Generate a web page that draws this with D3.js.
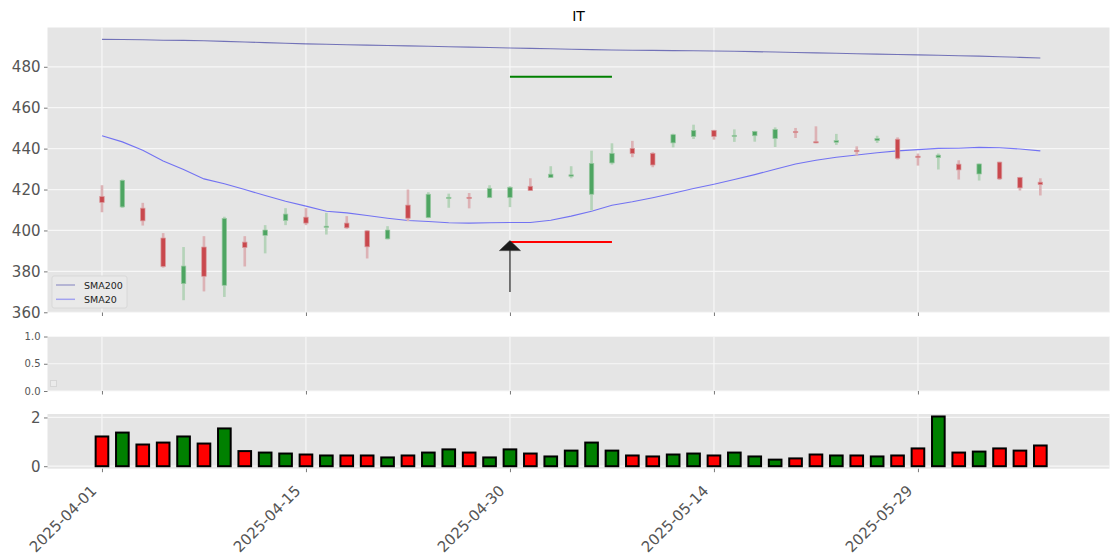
<!DOCTYPE html>
<html><head><meta charset="utf-8">
<script src="https://cdn.jsdelivr.net/npm/d3@7"></script>
<style>
body{margin:0;background:#fff;}
text{font-family:"DejaVu Sans",sans-serif;}
</style>
</head><body>
<svg id="c" width="1120" height="560"></svg>
<script>
const dates = ["2025-04-01","2025-04-02","2025-04-03","2025-04-04","2025-04-07","2025-04-08","2025-04-09","2025-04-10","2025-04-11","2025-04-14",
"2025-04-15","2025-04-16","2025-04-17","2025-04-21","2025-04-22","2025-04-23","2025-04-24","2025-04-25","2025-04-28","2025-04-29",
"2025-04-30","2025-05-01","2025-05-02","2025-05-05","2025-05-06","2025-05-07","2025-05-08","2025-05-09","2025-05-12","2025-05-13",
"2025-05-14","2025-05-15","2025-05-16","2025-05-19","2025-05-20","2025-05-21","2025-05-22","2025-05-23","2025-05-27","2025-05-28",
"2025-05-29","2025-05-30","2025-06-02","2025-06-03","2025-06-04","2025-06-05","2025-06-06"];
const open  = [416.6,411.5,410.9,396.3,374.0,391.9,373.2,394.3,397.6,404.9,406.5,401.5,403.6,399.8,395.9,412.4,406.3,415.6,416.2,416.1,
416.1,421.6,425.9,426.5,417.7,433.0,440.1,437.7,442.8,445.9,448.9,445.9,446.3,444.9,448.4,443.4,443.1,439.2,443.9,444.6,
436.3,435.6,432.4,427.6,433.4,425.9,423.6];
const high  = [422.1,424.9,413.5,398.7,391.9,397.2,406.7,397.2,402.6,410.9,410.9,408.6,407.0,400.0,402.1,420.0,418.7,418.0,418.3,422.1,
421.6,425.5,431.4,431.4,439.0,442.6,443.8,438.2,447.3,451.7,449.2,449.4,448.7,450.4,450.1,450.9,447.2,441.1,446.3,445.5,
437.6,437.6,434.3,432.7,433.6,426.2,425.5];
const low   = [408.9,411.0,402.4,381.8,365.9,370.2,367.5,382.4,388.8,402.6,402.6,398.0,400.8,386.3,395.6,404.5,406.0,411.1,410.8,415.8,
411.4,419.3,425.7,425.5,409.8,432.2,435.8,430.9,440.6,444.7,444.4,443.3,443.4,440.8,445.2,442.6,441.8,436.6,442.8,434.7,
431.7,429.8,424.9,424.4,424.7,419.5,417.1];
const close = [413.7,424.5,404.7,382.4,382.6,377.6,405.9,391.7,400.2,408.0,403.6,402.1,401.3,392.0,400.2,406.0,417.7,416.2,415.6,420.6,
421.1,419.5,427.5,427.2,432.8,437.7,437.6,432.0,446.8,448.9,445.9,446.5,448.4,449.4,447.8,442.8,443.9,438.5,445.0,435.3,
435.6,436.8,429.6,432.5,425.2,420.8,422.4];
const volume = [1.22,1.38,0.89,0.97,1.22,0.93,1.55,0.62,0.56,0.52,0.48,0.44,0.44,0.44,0.36,0.44,0.56,0.69,0.56,0.36,
0.69,0.52,0.40,0.64,0.97,0.64,0.44,0.40,0.48,0.52,0.44,0.56,0.40,0.27,0.32,0.48,0.44,0.44,0.40,0.44,
0.73,2.04,0.56,0.60,0.73,0.64,0.85];
const sma20 = [446.3,443.3,439.2,434.0,429.8,425.2,422.8,420.0,417.1,414.3,411.9,409.4,408.6,407.3,406.0,404.9,404.4,403.8,403.6,403.8,
403.9,403.9,405.0,407.0,409.4,412.3,414.0,416.0,418.2,420.5,422.6,424.9,427.3,429.9,432.5,434.3,435.8,436.9,438.0,438.9,
439.5,440.1,440.2,440.6,440.4,439.8,438.9];
const sma200 = [493.4,493.3,493.2,493.0,492.9,492.7,492.4,492.1,491.8,491.5,491.2,491.0,490.8,490.6,490.4,490.2,490.0,489.8,489.6,489.4,
489.2,489.0,488.8,488.6,488.4,488.2,488.1,488.0,487.9,487.8,487.7,487.6,487.4,487.2,487.0,486.8,486.6,486.4,486.2,486.0,
485.8,485.6,485.4,485.2,484.9,484.6,484.3];
const priceTicks = [360,380,400,420,440,460,480];
const emptyTicks = [0,0.5,1.0];
const volTicks = [0,2];
const dateTickIdx = [0,10,20,30,40];
const targetLevel = {from:20, to:25, price:475.1};
const stopLevel = {from:20, to:25, price:394.3};
const signalArrow = {at:20, fromPrice:369.9, toPrice:394.3};
const seriesNames = ["SMA200","SMA20"];

const svg = d3.select("#c");
const L = 47.5, R = 1109.5;
const x = d3.scaleLinear().domain([-2.67, 49.39]).range([L, R]);
const y = d3.scaleLinear().domain([359.9, 499.2]).range([312.5, 27.5]);
const yMid = d3.scaleLinear().domain([0, 1]).range([391, 336.5]);
const vmax = d3.max(volume);
const yVol = d3.scaleLinear().domain([-0.05*vmax, 1.05*vmax]).range([468.7, 414]);
const idx = d3.range(dates.length);
const bg = "#e5e5e5", grid = "#f7f7f7", tc = "#555";

function panel(ys, yTicks, fmt, fs){
  const t = ys.range()[1], b = ys.range()[0];
  svg.append("rect").attr("x",L).attr("y",t).attr("width",R-L).attr("height",b-t).attr("fill",bg);
  const g = svg.append("g");
  g.selectAll(".hg").data(yTicks).join("line").attr("x1",L).attr("x2",R)
    .attr("y1",d=>ys(d)).attr("y2",d=>ys(d)).attr("stroke",grid).attr("stroke-width",1.2);
  g.selectAll(".vg").data(dateTickIdx).join("line").attr("y1",t).attr("y2",b)
    .attr("x1",d=>x(d)).attr("x2",d=>x(d)).attr("stroke",grid).attr("stroke-width",1.2);
  const ax = svg.append("g").attr("transform",`translate(${L},0)`)
    .call(d3.axisLeft(ys).tickValues(yTicks).tickFormat(fmt).tickSize(3.5).tickPadding(3.5));
  ax.select(".domain").remove();
  ax.selectAll("line").attr("stroke",tc).attr("stroke-width",0.8);
  ax.selectAll("text").attr("fill",tc).style("font-size",fs+"px").style("font-family","DejaVu Sans");
  const bx = svg.append("g").attr("transform",`translate(0,${b})`)
    .call(d3.axisBottom(x).tickValues(dateTickIdx).tickSize(3.5).tickFormat(""));
  bx.select(".domain").remove();
  bx.selectAll("line").attr("stroke",tc).attr("stroke-width",0.8);
  return bx;
}

// main panel
panel(y, priceTicks, d3.format("d"), 15);
// empty middle panel
panel(yMid, emptyTicks, d3.format(".1f"), 10);
svg.append("rect").attr("x",50.5).attr("y",380.5).attr("width",6).attr("height",6)
  .attr("fill","#ebebeb").attr("stroke","#d6d6d6").attr("stroke-width",1);
// volume panel
const vx = panel(yVol, volTicks, d3.format("d"), 15);
vx.selectAll(".tick").append("text")
  .attr("transform","translate(-5,23) rotate(-45)")
  .attr("text-anchor","end").attr("fill",tc)
  .style("font-size","15px").text(d=>dates[d]);

// title
svg.append("text").attr("x",(L+R)/2).attr("y",21).attr("text-anchor","middle")
  .style("font-size","14px").attr("fill","#000").text("IT");

// SMA lines
const line = d3.line().x((d,i)=>x(i)).y(d=>y(d));
svg.append("path").datum(sma200).attr("d",line).attr("fill","none")
  .attr("stroke","#00008b").attr("stroke-opacity",0.5).attr("stroke-width",1.1);
svg.append("path").datum(sma20).attr("d",line).attr("fill","none")
  .attr("stroke","#0000ff").attr("stroke-opacity",0.5).attr("stroke-width",1.1);

// candles
const up = i => close[i] >= open[i];
const cw = x(0.13)-x(0), bw = x(0.22)-x(0);
svg.append("g").selectAll("rect").data(idx).join("rect")
  .attr("x",i=>x(i)-cw/2).attr("width",cw)
  .attr("y",i=>y(high[i])).attr("height",i=>y(low[i])-y(high[i]))
  .attr("fill",i=>up(i)?"#b5d3b9":"#dcb2b5");
svg.append("g").selectAll("rect").data(idx).join("rect")
  .attr("x",i=>x(i)-bw/2).attr("width",bw)
  .attr("y",i=>y(Math.max(open[i],close[i])))
  .attr("height",i=>Math.max(1.2, Math.abs(y(open[i])-y(close[i]))))
  .attr("fill",i=>up(i)?"#4ea562":"#c9484d")
  .attr("stroke",i=>up(i)?"#9cc9a4":"#d99a9d").attr("stroke-width",0.7);

// level lines
svg.append("line").attr("x1",x(targetLevel.from)).attr("x2",x(targetLevel.to))
  .attr("y1",y(targetLevel.price)).attr("y2",y(targetLevel.price))
  .attr("stroke","#008000").attr("stroke-width",2);
svg.append("line").attr("x1",x(stopLevel.from)).attr("x2",x(stopLevel.to))
  .attr("y1",y(stopLevel.price)).attr("y2",y(stopLevel.price))
  .attr("stroke","#ff0000").attr("stroke-width",2);

// arrow
const ax0 = x(signalArrow.at), tipY = y(signalArrow.toPrice), baseY = y(signalArrow.fromPrice);
svg.append("line").attr("x1",ax0).attr("x2",ax0).attr("y1",tipY+8).attr("y2",baseY)
  .attr("stroke","#555").attr("stroke-width",1.6);
svg.append("path").attr("d",`M${ax0},${tipY-1.5} L${ax0+10.5},${tipY+8.5} L${ax0-10.5},${tipY+8.5} Z`)
  .attr("fill","#1a1a1a").attr("stroke","#333").attr("stroke-width",0.6);

// legend
const lg = svg.append("g");
lg.append("rect").attr("x",52).attr("y",276).attr("width",75).attr("height",32).attr("rx",2)
  .attr("fill","#e9e9e9").attr("stroke","#d4d4d4").attr("stroke-width",0.8);
const legendColors = [["#00008b",0.3],["#0000ff",0.3]];
seriesNames.forEach((n,k)=>{
  const yy = 285 + k*14.3;
  lg.append("line").attr("x1",56).attr("x2",75).attr("y1",yy).attr("y2",yy)
    .attr("stroke",legendColors[k][0]).attr("stroke-opacity",legendColors[k][1]).attr("stroke-width",1.5);
  lg.append("text").attr("x",84).attr("y",yy+3.5).style("font-size","9.5px").attr("fill","#222").text(n);
});

// volume bars
svg.append("g").selectAll("rect").data(idx).join("rect")
  .attr("x",i=>x(i-0.31)).attr("width",x(0.62)-x(0))
  .attr("y",i=>yVol(volume[i])).attr("height",i=>yVol(0)-yVol(volume[i]))
  .attr("fill",i=>up(i)?"#008000":"#ff0000").attr("stroke","#000").attr("stroke-width",2);
</script>
</body></html>
